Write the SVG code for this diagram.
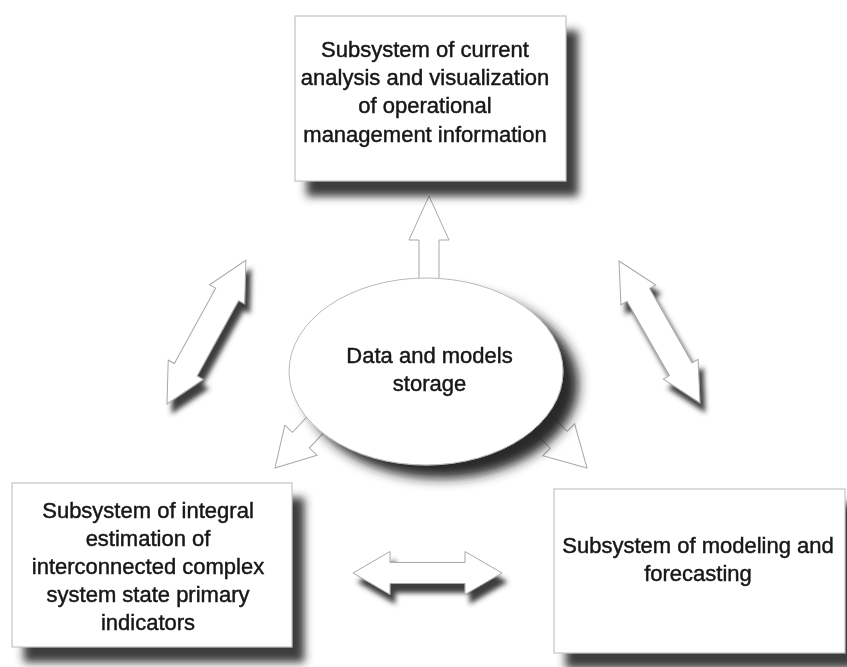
<svg xmlns="http://www.w3.org/2000/svg" width="847" height="667" viewBox="0 0 847 667">
  <defs>
    <!-- soft drop shadows: boxes, ellipse, double arrows -->
    <filter id="boxShadow" x="-10%" y="-10%" width="130%" height="140%">
      <feGaussianBlur in="SourceAlpha" stdDeviation="4"/>
      <feOffset dx="12" dy="15" result="b"/>
      <feFlood flood-color="#2e2e2e" flood-opacity="0.92"/>
      <feComposite in2="b" operator="in"/>
      <feMerge><feMergeNode/><feMergeNode in="SourceGraphic"/></feMerge>
    </filter>
    <filter id="ellShadow" x="-10%" y="-10%" width="130%" height="140%">
      <feGaussianBlur in="SourceAlpha" stdDeviation="6"/>
      <feOffset dx="15" dy="13" result="b"/>
      <feFlood flood-color="#1e1e1e" flood-opacity="0.95"/>
      <feComposite in2="b" operator="in"/>
      <feMerge><feMergeNode/><feMergeNode in="SourceGraphic"/></feMerge>
    </filter>
    <filter id="arrowShadow" x="-30%" y="-30%" width="160%" height="160%" filterUnits="userSpaceOnUse">
      <feGaussianBlur in="SourceAlpha" stdDeviation="2.5"/>
      <feOffset dx="5" dy="9" result="b"/>
      <feFlood flood-color="#2e2e2e" flood-opacity="0.92"/>
      <feComposite in2="b" operator="in"/>
      <feMerge><feMergeNode/><feMergeNode in="SourceGraphic"/></feMerge>
    </filter>
  </defs>
  <style>
    .box { fill: #fff; stroke: #b8b8b8; stroke-width: 1; }
    .arr { fill: #fff; stroke: #a8a8a8; stroke-width: 1; stroke-linejoin: miter; }
    .lbl { font-family: "Liberation Sans", Arial, sans-serif; font-size: 22px; fill: #161616; stroke: #161616; stroke-width: 0.45; text-anchor: middle; }
  </style>

  <rect width="847" height="667" fill="#fff"/>

  <g id="connectors">
    <!-- storage -> top subsystem -->
    <path class="arr" transform="translate(429,196) rotate(-90)"
          d="M0,0 L-44,-20 L-44,-10 L-90,-10 L-90,10 L-44,10 L-44,20 Z"/>
    <!-- storage -> lower-left subsystem -->
    <path class="arr" transform="translate(275,468) rotate(133)"
          d="M0,0 L-38,-22 L-38,-11.5 L-80,-11.5 L-80,11.5 L-38,11.5 L-38,22 Z"/>
    <!-- storage -> lower-right subsystem -->
    <path class="arr" transform="translate(587,468) rotate(45)"
          d="M0,0 L-40,-22.5 L-40,-12 L-80,-12 L-80,12 L-40,12 L-40,22.5 Z"/>
    <!-- left: lower-left <-> top -->
    <g filter="url(#arrowShadow)">
      <path class="arr" transform="translate(167,404) rotate(-61.25)"
            d="M0,0 L39,-20 L39,-13 L125,-13 L125,-20 L164,0 L125,20 L125,13 L39,13 L39,20 Z"/>
    </g>
    <!-- right: top <-> lower-right -->
    <g filter="url(#arrowShadow)">
      <path class="arr" transform="translate(619,261) rotate(60.3)"
            d="M0,0 L39,-20 L39,-13 L124.5,-13 L124.5,-20 L163.5,0 L124.5,20 L124.5,13 L39,13 L39,20 Z"/>
    </g>
    <!-- bottom: lower-left <-> lower-right -->
    <g filter="url(#arrowShadow)">
      <path class="arr" transform="translate(353,573)"
            d="M0,0 L37,-21.5 L37,-10.5 L112,-10.5 L112,-21.5 L149,0 L112,21.5 L112,10.5 L37,10.5 L37,21.5 Z"/>
    </g>
  </g>

  <g id="node-storage" filter="url(#ellShadow)">
    <ellipse class="box" cx="426" cy="371.5" rx="137" ry="93.5"/>
    <text class="lbl" x="429.5" y="363">Data and models</text>
    <text class="lbl" x="429.5" y="391">storage</text>
  </g>

  <g id="node-analysis" filter="url(#boxShadow)">
    <rect class="box" x="295" y="16" width="271" height="165"/>
    <text class="lbl" x="425" y="57">Subsystem of current</text>
    <text class="lbl" x="425" y="85">analysis and visualization</text>
    <text class="lbl" x="425" y="113">of operational</text>
    <text class="lbl" x="425" y="142">management information</text>
  </g>

  <g id="node-estimation" filter="url(#boxShadow)">
    <rect class="box" x="12" y="483" width="280" height="164"/>
    <text class="lbl" x="148" y="518">Subsystem of integral</text>
    <text class="lbl" x="148" y="546">estimation of</text>
    <text class="lbl" x="148" y="574">interconnected complex</text>
    <text class="lbl" x="148" y="602">system state primary</text>
    <text class="lbl" x="148" y="630">indicators</text>
  </g>

  <g id="node-modeling" filter="url(#boxShadow)">
    <rect class="box" x="554" y="489" width="291" height="164"/>
    <text class="lbl" x="698" y="553">Subsystem of modeling and</text>
    <text class="lbl" x="698" y="581">forecasting</text>
  </g>
</svg>
